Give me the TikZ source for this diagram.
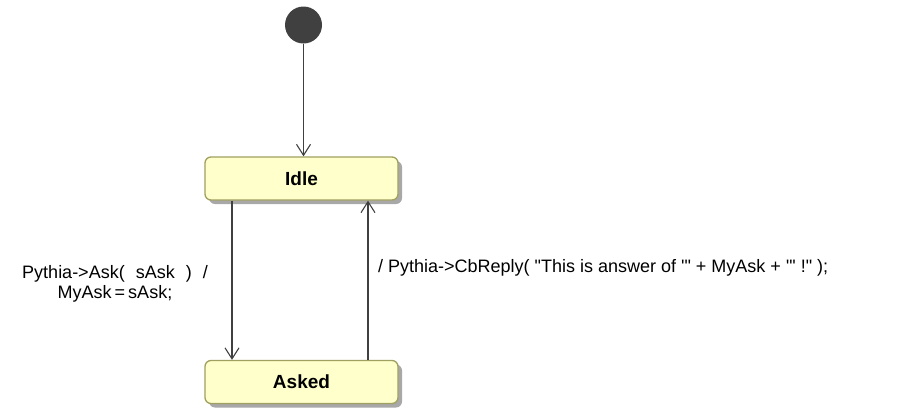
\documentclass[tikz,border=0pt]{standalone}
\usepackage{fontspec}
\setmainfont{Liberation Sans}[Ligatures=TeXOff]
\usetikzlibrary{arrows.meta,shadows}
\definecolor{stfill}{HTML}{FFFFCC}
\definecolor{stborder}{HTML}{A0A060}
\definecolor{lineC}{HTML}{404040}
\definecolor{shadowC}{HTML}{A8A8A8}
\tikzset{
  state/.style={draw=stborder, line width=1.3pt, fill=stfill, rounded corners=6pt,
    minimum width=193pt, minimum height=43pt, inner sep=0pt,
    font=\fontsize{19}{21}\selectfont\bfseries,
    drop shadow={shadow xshift=4pt, shadow yshift=-4pt, fill=shadowC, opacity=1}},
  initial/.style={circle, fill=lineC, minimum size=37pt, inner sep=0pt},
  trans/.style={draw=lineC, line width=1.1pt, -{Straight Barb[length=11pt,width=14pt,line width=1.1pt]}},
  lbl/.style={font=\fontsize{18}{20}\selectfont, inner sep=0pt}
}
\begin{document}
\begin{tikzpicture}[x=1pt,y=-1pt]
\useasboundingbox (0,0) rectangle (916,408);
\node[initial] (init) at (303.5,25) {};
\node[state] (idle) at (301.5,178.5) {Idle};
\node[state] (asked) at (301.5,382) {Asked};
\coordinate (l1) at (232,0);
\coordinate (r1) at (368,0);
\draw[trans] (init) -- (init |- idle.north);
\draw[trans] (l1 |- idle.south) -- (l1 |- asked.north);
\draw[trans] (r1 |- asked.north) -- (r1 |- idle.south);
\node[lbl, align=center] (lab1) at (115,284) {Pythia->Ask(\hspace{11pt}sAsk\hspace{11pt})\hspace{11pt}/\\ MyAsk\hspace{3pt}=\hspace{3pt}sAsk;};
\node[lbl, anchor=base west] (lab2) at (378,272) {/ Pythia->CbReply( "This is answer of '" + MyAsk + "' !" );};
\end{tikzpicture}
\end{document}
